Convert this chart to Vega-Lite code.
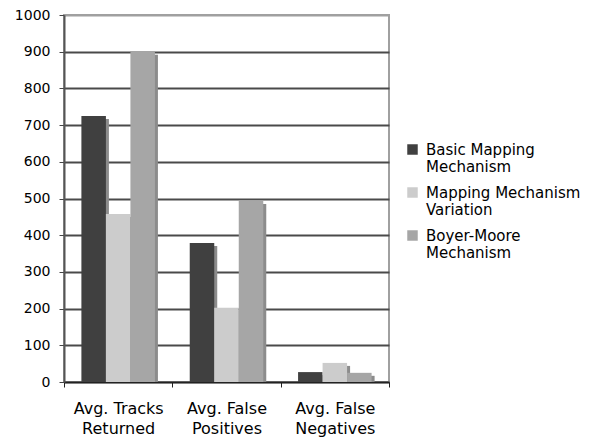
{
  "$schema": "https://vega.github.io/schema/vega-lite/v6.json",
  "autosize": "none",
  "width": 325,
  "height": 367,
  "padding": {"left": 64, "top": 15, "right": 201, "bottom": 57},
  "background": "white",
  "config": {
    "font": "DejaVu Sans",
    "view": {"stroke": "#a0a0a0", "strokeWidth": 2}
  },
  "data": {
    "values": [
      {"measure": "Avg. Tracks Returned", "mechanism": "Basic Mapping Mechanism", "value": 725},
      {"measure": "Avg. Tracks Returned", "mechanism": "Mapping Mechanism Variation", "value": 458},
      {"measure": "Avg. Tracks Returned", "mechanism": "Boyer-Moore Mechanism", "value": 900},
      {"measure": "Avg. False Positives", "mechanism": "Basic Mapping Mechanism", "value": 379},
      {"measure": "Avg. False Positives", "mechanism": "Mapping Mechanism Variation", "value": 202},
      {"measure": "Avg. False Positives", "mechanism": "Boyer-Moore Mechanism", "value": 493},
      {"measure": "Avg. False Negatives", "mechanism": "Basic Mapping Mechanism", "value": 27},
      {"measure": "Avg. False Negatives", "mechanism": "Mapping Mechanism Variation", "value": 52},
      {"measure": "Avg. False Negatives", "mechanism": "Boyer-Moore Mechanism", "value": 25}
    ]
  },
  "encoding": {
    "x": {
      "field": "measure",
      "type": "nominal",
      "sort": null,
      "scale": {"paddingInner": 0, "paddingOuter": 0},
      "axis": {
        "title": null,
        "labelAngle": 0,
        "labelFontSize": 16,
        "labelColor": "#000000",
        "labelExpr": "[slice(datum.label, 0, lastindexof(datum.label, ' ')), slice(datum.label, lastindexof(datum.label, ' ') + 1)]",
        "labelLineHeight": 20,
        "labelPadding": 13,
        "labelLimit": 200,
        "tickBand": "extent",
        "tickSize": 5,
        "tickColor": "#222222",
        "domainColor": "#222222",
        "domainWidth": 1.5
      }
    },
    "y": {
      "field": "value",
      "type": "quantitative",
      "scale": {"domain": [0, 1000], "nice": false},
      "axis": {
        "title": null,
        "values": [0, 100, 200, 300, 400, 500, 600, 700, 800, 900, 1000],
        "format": "d",
        "labelFontSize": 14,
        "labelColor": "#000000",
        "labelPadding": 9,
        "tickSize": 5,
        "tickColor": "#444444",
        "domainColor": "#555555",
        "domainWidth": 2,
        "grid": true,
        "gridColor": {"condition": {"test": "datum.value === 1000", "value": "#a0a0a0"}, "value": "#4a4a4a"},
        "gridWidth": 2
      }
    }
  },
  "layer": [
    {
      "mark": {"type": "bar", "color": "#8c8c8c", "yOffset": 3, "clip": true},
      "encoding": {
        "xOffset": {
          "field": "mechanism",
          "type": "nominal",
          "sort": null,
          "scale": {
            "paddingInner": 0,
            "paddingOuter": 0.71,
            "range": [{"expr": "3"}, {"expr": "bandwidth('x') + 3"}]
          }
        }
      }
    },
    {
      "mark": {"type": "bar"},
      "encoding": {
        "xOffset": {
          "field": "mechanism",
          "type": "nominal",
          "sort": null,
          "scale": {"paddingInner": 0, "paddingOuter": 0.71}
        },
        "color": {
          "field": "mechanism",
          "type": "nominal",
          "sort": null,
          "scale": {
            "domain": ["Basic Mapping Mechanism", "Mapping Mechanism Variation", "Boyer-Moore Mechanism"],
            "range": ["#404040", "#cccccc", "#a6a6a6"]
          },
          "legend": {
            "title": null,
            "orient": "none",
            "legendX": 341,
            "legendY": 127,
            "symbolType": "square",
            "symbolSize": 110,
            "symbolStrokeWidth": 0,
            "labelFontSize": 15,
            "labelColor": "#000000",
            "labelLimit": 250,
            "labelOffset": 6,
            "labelExpr": "[slice(datum.label, 0, lastindexof(datum.label, ' ')), slice(datum.label, lastindexof(datum.label, ' ') + 1)]",
            "labelLineHeight": 20,
            "rowPadding": 10
          }
        }
      }
    }
  ],
  "resolve": {"scale": {"xOffset": "independent"}}
}
